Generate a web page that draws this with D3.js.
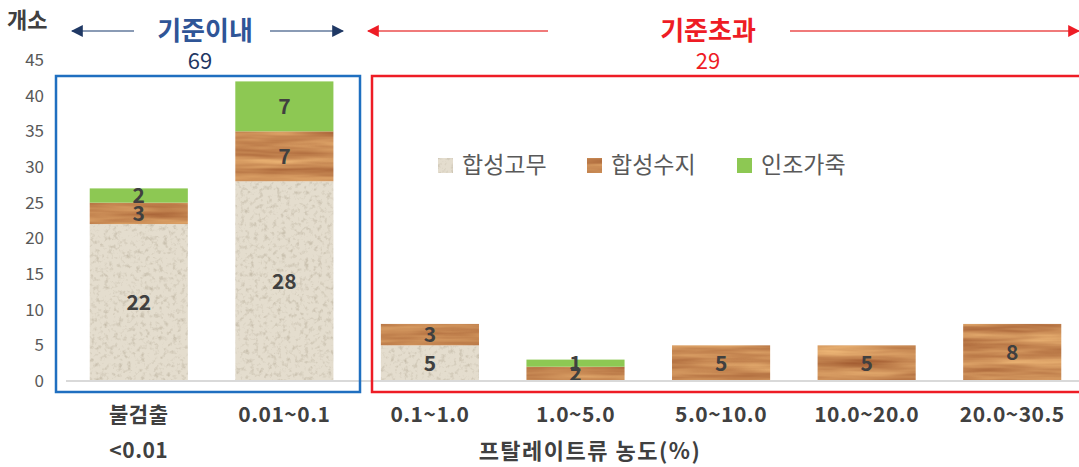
<!DOCTYPE html>
<html>
<head>
<meta charset="utf-8">
<script src="https://cdn.jsdelivr.net/npm/d3@7"></script>
<style>
  body { margin: 0; background: #fff; }
  svg text { font-family: "Noto Sans CJK KR", "Noto Sans", sans-serif; }
</style>
</head>
<body>
<svg id="chart" width="1079" height="467"></svg>
<script>
// Concentration classes (x axis)
const categories = ["불검출|<0.01", "0.01~0.1", "0.1~1.0", "1.0~5.0", "5.0~10.0", "10.0~20.0", "20.0~30.5"];
// Counts per material
const rubber  = [22, 28, 5, 0, 0, 0, 0];   // 합성고무
const resin   = [3, 7, 3, 2, 5, 5, 8];     // 합성수지
const leather = [2, 7, 0, 1, 0, 0, 0];     // 인조가죽
const seriesNames = ["합성고무", "합성수지", "인조가죽"];
const yTicks = [0, 5, 10, 15, 20, 25, 30, 35, 40, 45];
const groupLabels = ["기준이내", "기준초과"];
const groupTotals = [69, 29];

const svg = d3.select("#chart");

// textures: sand-like rubber, wood-like resin
const defs = svg.append("defs");
const sand = defs.append("filter").attr("id", "sand")
    .attr("x", 0).attr("y", 0).attr("width", 1).attr("height", 1)
    .attr("color-interpolation-filters", "sRGB");
sand.append("feTurbulence").attr("type", "fractalNoise")
    .attr("baseFrequency", "0.22").attr("numOctaves", 3).attr("seed", 4).attr("result", "n");
sand.append("feColorMatrix").attr("in", "n").attr("type", "matrix")
    .attr("values", "0 0 0 0 0.70  0 0 0 0 0.66  0 0 0 0 0.58  1.5 0 0 0 -0.75")
    .attr("result", "spots");
sand.append("feFlood").attr("flood-color", "#e4ddce").attr("result", "bg");
sand.append("feComposite").attr("in", "spots").attr("in2", "bg").attr("operator", "over").attr("result", "tex");
sand.append("feComposite").attr("in", "tex").attr("in2", "SourceGraphic").attr("operator", "in");

const wood = defs.append("filter").attr("id", "wood")
    .attr("x", 0).attr("y", 0).attr("width", 1).attr("height", 1)
    .attr("color-interpolation-filters", "sRGB");
wood.append("feTurbulence").attr("type", "fractalNoise")
    .attr("baseFrequency", "0.01 0.12").attr("numOctaves", 3).attr("seed", 7).attr("result", "n");
wood.append("feColorMatrix").attr("in", "n").attr("type", "matrix")
    .attr("values", "0.35 0 0 0 0.61  0.42 0 0 0 0.33  0.32 0 0 0 0.17  0 0 0 0 1")
    .attr("result", "tex");
wood.append("feComposite").attr("in", "tex").attr("in2", "SourceGraphic").attr("operator", "in");

const fills = { "합성고무": "#e4ddce", "합성수지": "#c6864f", "인조가죽": "#8dc853" };
const filters = { "합성고무": "url(#sand)", "합성수지": "url(#wood)", "인조가죽": null };

// scales
const x = d3.scaleBand().domain(categories).range([66, 1085]).paddingInner(0.326).paddingOuter(0.163);
const y = d3.scaleLinear().domain([0, 45]).range([381, 60]);

// y axis
const yAxis = svg.append("g")
    .attr("transform", "translate(46,0)")
    .call(d3.axisLeft(y).tickValues(yTicks).tickSize(0).tickPadding(2));
yAxis.select(".domain").remove();
yAxis.selectAll("text")
    .attr("fill", "#595959")
    .style("font-size", "17px");

// stacked bars
const table = categories.map((c, i) => ({
    cat: c, "합성고무": rubber[i], "합성수지": resin[i], "인조가죽": leather[i]
}));
const stacked = d3.stack().keys(seriesNames)(table);

const layers = svg.append("g").selectAll("g")
    .data(stacked)
    .join("g");

layers.selectAll("rect")
    .data(d => d.filter(s => s[1] - s[0] > 0).map(s => ({ key: d.key, s })))
    .join("rect")
    .attr("x", d => x(d.s.data.cat))
    .attr("width", x.bandwidth())
    .attr("y", d => y(d.s[1]))
    .attr("height", d => y(d.s[0]) - y(d.s[1]))
    .attr("fill", d => fills[d.key])
    .attr("filter", d => filters[d.key]);

// x axis baseline
const xAxis = svg.append("g")
    .attr("transform", "translate(0,381)")
    .call(d3.axisBottom(x).tickSize(0).tickPadding(0));
xAxis.select(".domain").attr("stroke", "#d9d9d9").attr("stroke-width", 2)
    .attr("d", "M66,0H1079");
xAxis.selectAll(".tick text").each(function(d) {
    const t = d3.select(this).text(null)
        .attr("y", 0).attr("dy", null)
        .attr("fill", "#404040")
        .style("font-size", "21px").style("font-weight", "bold")
        .style("letter-spacing", "0.5px");
    d.split("|").forEach((line, i) => {
        t.append("tspan").attr("x", 0).attr("y", 41 + i * 36).text(line);
    });
});

// value labels
layers.selectAll("text")
    .data(d => d.filter(s => s[1] - s[0] > 0).map(s => ({ key: d.key, s })))
    .join("text")
    .attr("x", d => x(d.s.data.cat) + x.bandwidth() / 2)
    .attr("y", d => (y(d.s[0]) + y(d.s[1])) / 2)
    .attr("dy", "0.36em")
    .attr("text-anchor", "middle")
    .attr("fill", "#404040")
    .style("font-size", "21px")
    .style("font-weight", "bold")
    .text(d => d.s[1] - d.s[0]);

// axis titles
svg.append("text").attr("x", 7).attr("y", 28)
    .attr("fill", "#404040").style("font-size", "22px").style("font-weight", "bold")
    .text("개소");
svg.append("text").attr("x", 590).attr("y", 459).attr("text-anchor", "middle")
    .attr("fill", "#404040").style("font-size", "22px").style("font-weight", "bold")
    .style("letter-spacing", "1.5px")
    .text("프탈레이트류 농도(%)");

// group boxes
svg.append("rect").attr("x", 56).attr("y", 76).attr("width", 304).attr("height", 316)
    .attr("fill", "none").attr("stroke", "#1f6fc0").attr("stroke-width", 2.5);
svg.append("rect").attr("x", 372).attr("y", 76).attr("width", 720).attr("height", 316)
    .attr("fill", "none").attr("stroke", "#ee1c25").attr("stroke-width", 2.5);

// arrow heads
function marker(id, color) {
    defs.append("marker").attr("id", id)
        .attr("viewBox", "0 0 10 10").attr("refX", 9).attr("refY", 5)
        .attr("markerWidth", 6).attr("markerHeight", 6)
        .attr("markerUnits", "strokeWidth")
        .attr("orient", "auto-start-reverse")
        .append("path").attr("d", "M0,0L10,5L0,10Z").attr("fill", color);
}
marker("headBlue", "#1f3864");
marker("headRed", "#ee1c25");

function arrow(x1, x2, yy, line, head) {
    svg.append("line").attr("x1", x1).attr("x2", x2).attr("y1", yy).attr("y2", yy)
        .attr("stroke", line).attr("stroke-width", 2)
        .attr("marker-end", `url(#${head})`);
}
arrow(134, 72, 31, "#8a9bb5", "headBlue");
arrow(270, 343, 31, "#8a9bb5", "headBlue");
arrow(548, 368, 31, "#f07a7a", "headRed");
arrow(790, 1079, 31, "#f07a7a", "headRed");

svg.append("text").attr("x", 205).attr("y", 40).attr("text-anchor", "middle")
    .attr("fill", "#2f5597").style("font-size", "26px").style("font-weight", "bold")
    .text(groupLabels[0]);
svg.append("text").attr("x", 200).attr("y", 69).attr("text-anchor", "middle")
    .attr("fill", "#1f3864").style("font-size", "22px")
    .text(groupTotals[0]);
svg.append("text").attr("x", 708).attr("y", 40).attr("text-anchor", "middle")
    .attr("fill", "#ee1c25").style("font-size", "26px").style("font-weight", "bold")
    .text(groupLabels[1]);
svg.append("text").attr("x", 708).attr("y", 69).attr("text-anchor", "middle")
    .attr("fill", "#ee1c25").style("font-size", "22px")
    .text(groupTotals[1]);

// legend
const legendX = [438, 587, 737];
const legend = svg.append("g").selectAll("g")
    .data(seriesNames)
    .join("g")
    .attr("transform", (d, i) => `translate(${legendX[i]},165)`);
legend.append("rect").attr("y", -7).attr("width", 15).attr("height", 15)
    .attr("fill", d => fills[d]).attr("filter", d => filters[d]);
legend.append("text").attr("x", 24).attr("dy", "0.35em")
    .attr("fill", "#595959").style("font-size", "23px")
    .text(d => d);
</script>
</body>
</html>
